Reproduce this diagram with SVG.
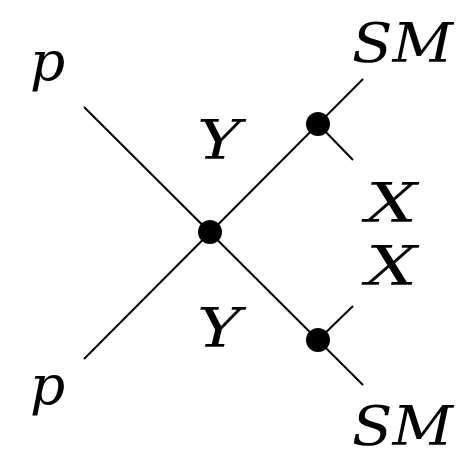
<svg xmlns="http://www.w3.org/2000/svg" width="466" height="457" viewBox="0 0 466 457">
<style>
.l{stroke:#000;stroke-width:2;fill:none;stroke-linecap:butt}
.d{fill:#000}
text{font-family:"DejaVu Serif","Liberation Serif",serif;font-style:italic;font-size:55px;fill:#000}
</style>
<rect width="466" height="457" fill="#fff"/>
<g id="connectors">
<line class="l" x1="84" y1="107" x2="363" y2="385"/>
<line class="l" x1="84" y1="359" x2="363" y2="79"/>
<line class="l" x1="318" y1="124" x2="353" y2="160"/>
<line class="l" x1="318" y1="340" x2="353" y2="306"/>
</g>
<g id="vertex-center"><circle class="d" cx="210" cy="232" r="12"/></g>
<g id="vertex-top"><circle class="d" cx="318" cy="124" r="12"/></g>
<g id="vertex-bottom"><circle class="d" cx="318" cy="340" r="12"/></g>
<g id="label-p-top"><text x="30" y="80">p</text></g>
<g id="label-p-bottom"><text x="30" y="404">p</text></g>
<g id="label-Y-top"><text x="197" y="159" textLength="44" lengthAdjust="spacingAndGlyphs">Y</text></g>
<g id="label-Y-bottom"><text x="197" y="347" textLength="44" lengthAdjust="spacingAndGlyphs">Y</text></g>
<g id="label-X-top"><text x="366" y="222" textLength="51" lengthAdjust="spacingAndGlyphs">X</text></g>
<g id="label-X-bottom"><text x="366" y="285" textLength="51" lengthAdjust="spacingAndGlyphs">X</text></g>
<g id="label-SM-top"><text x="352" y="62" textLength="101" lengthAdjust="spacingAndGlyphs">SM</text></g>
<g id="label-SM-bottom"><text x="352" y="445" textLength="101" lengthAdjust="spacingAndGlyphs">SM</text></g>
</svg>
